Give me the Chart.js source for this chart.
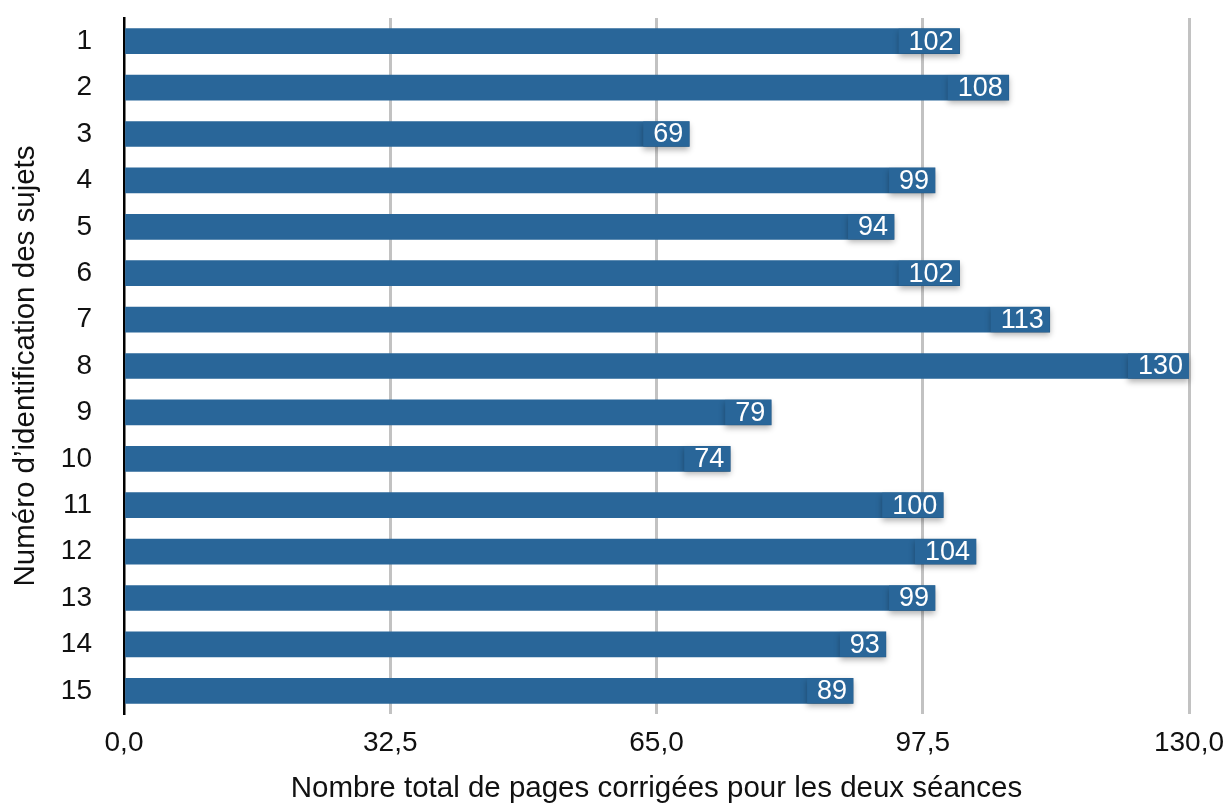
<!DOCTYPE html>
<html lang="fr">
<head>
<meta charset="utf-8">
<title>Pages corrigées par sujet</title>
<script src="https://cdn.jsdelivr.net/npm/chart.js@4/dist/chart.umd.min.js"></script>
<style>
    html, body { margin: 0; padding: 0; background: #fff; }
    #wrap { width: 1231px; height: 807px; position: relative; }
</style>
</head>
<body>
<div id="wrap"><canvas id="pagesChart"></canvas></div>
<script>
// Sujets et nombre total de pages corrigées
const sujets = ['1', '2', '3', '4', '5', '6', '7', '8', '9', '10', '11', '12', '13', '14', '15'];
const pages = [102, 108, 69, 99, 94, 102, 113, 130, 79, 74, 100, 104, 99, 93, 89];
const xTicks = [0, 32.5, 65, 97.5, 130];

const barColor = '#296699';
const fontFamily = '"Liberation Sans", Arial, sans-serif';

// Format décimal français : 32.5 -> "32,5"
function formatFr(v) {
    return Number(v).toFixed(1).replace('.', ',');
}

// Étiquette de valeur au bout de chaque barre
const valueLabels = {
    id: 'valueLabels',
    afterDatasetsDraw(chart) {
        const ctx = chart.ctx;
        const meta = chart.getDatasetMeta(0);
        ctx.save();
        ctx.font = '27px ' + fontFamily;
        ctx.textBaseline = 'middle';
        ctx.textAlign = 'right';
        meta.data.forEach((bar, i) => {
            const text = String(pages[i]);
            const w = ctx.measureText(text).width + 16;
            const top = bar.y - bar.height / 2;
            const h = bar.height;
            ctx.save();
            ctx.shadowColor = 'rgba(0, 0, 0, 0.3)';
            ctx.shadowBlur = 6;
            ctx.shadowOffsetY = 3;
            ctx.fillStyle = barColor;
            ctx.fillRect(bar.x - w, top, w, h);
            ctx.restore();
            ctx.fillStyle = '#fff';
            ctx.fillText(text, bar.x - 6, top + h / 2 + 1);
        });
        ctx.restore();
    }
};

const ctx = document.getElementById('pagesChart').getContext('2d');
new Chart(ctx, {
    type: 'bar',
    data: {
        labels: sujets,
        datasets: [{
            data: pages,
            backgroundColor: barColor,
            borderWidth: 0,
            barThickness: 25
        }]
    },
    options: {
        indexAxis: 'y',
        responsive: true,
        maintainAspectRatio: false,
        animation: false,
        layout: { padding: { top: 18, right: 42, left: 8, bottom: 0 } },
        plugins: {
            legend: { display: false },
            tooltip: { enabled: false }
        },
        scales: {
            x: {
                min: 0,
                max: 130,
                afterBuildTicks(scale) {
                    scale.ticks = xTicks.map(v => ({ value: v }));
                },
                ticks: {
                    callback: v => formatFr(v),
                    color: '#111',
                    font: { family: fontFamily, size: 28 },
                    padding: 0,
                    maxRotation: 0
                },
                grid: {
                    color: c => c.tick && c.tick.value === 0 ? 'rgba(0,0,0,0)' : '#c2c2c2',
                    lineWidth: 3,
                    drawTicks: true,
                    tickLength: 12,
                    tickColor: 'rgba(0,0,0,0)'
                },
                border: { display: false },
                title: {
                    display: true,
                    text: 'Nombre total de pages corrigées pour les deux séances',
                    color: '#111',
                    font: { family: fontFamily, size: 29.5 },
                    padding: { top: 12, bottom: 0 }
                }
            },
            y: {
                afterFit(scale) {
                    scale.width = 116;
                },
                ticks: {
                    color: '#111',
                    font: { family: fontFamily, size: 28 },
                    padding: 0
                },
                grid: {
                    display: true,
                    drawOnChartArea: false,
                    drawTicks: true,
                    tickLength: 32,
                    tickColor: 'rgba(0,0,0,0)'
                },
                border: { display: true, color: '#000', width: 2.5 },
                title: {
                    display: true,
                    text: 'Numéro d’identification des sujets',
                    color: '#111',
                    font: { family: fontFamily, size: 29.5 },
                    padding: { top: 0, bottom: 4 }
                }
            }
        }
    },
    plugins: [valueLabels]
});
</script>
</body>
</html>
